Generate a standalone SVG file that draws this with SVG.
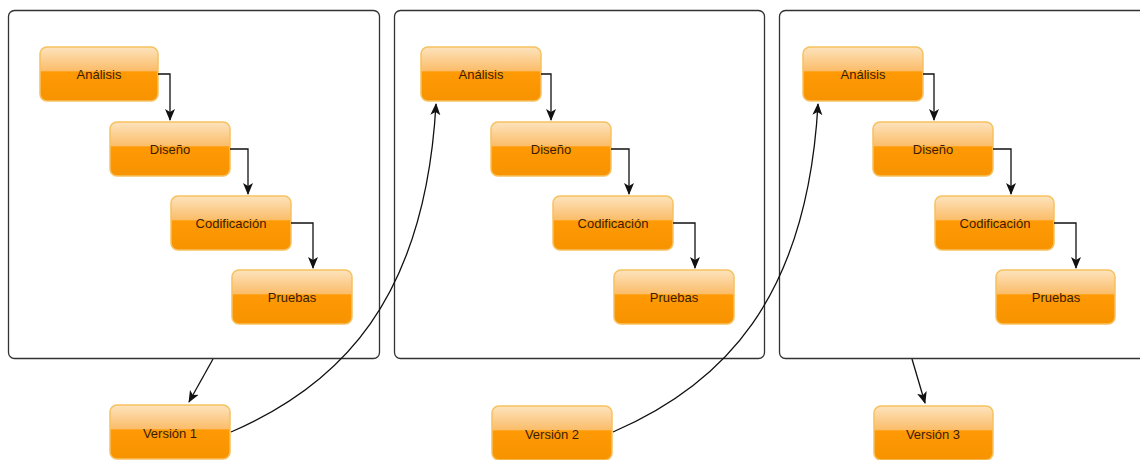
<svg xmlns="http://www.w3.org/2000/svg" width="1140" height="460" viewBox="0 0 1140 460">
<defs>
<linearGradient id="g" x1="0" y1="0" x2="0" y2="1">
<stop offset="0" stop-color="#fde3bd"/>
<stop offset="0.44" stop-color="#fbbd6a"/>
<stop offset="0.46" stop-color="#ff9a05"/>
<stop offset="1" stop-color="#f79300"/>
</linearGradient>
<marker id="arr" viewBox="0 0 12 12" refX="11" refY="6" markerWidth="12" markerHeight="12" markerUnits="userSpaceOnUse" orient="auto">
<path d="M0,1 L12,6 L0,11 L3,6 Z" fill="#111"/>
</marker>
</defs>
<style>
.panel{fill:#fff;stroke:#333;stroke-width:1.3}
.node rect{fill:url(#g);stroke:#f6c15f;stroke-width:1.5}
.node text{font-family:"Liberation Sans",Arial,sans-serif;font-size:13px;fill:#3a1c04;text-anchor:middle}
.conn{fill:none;stroke:#111;stroke-width:1.3;marker-end:url(#arr)}
</style>
<rect width="1140" height="460" fill="#fff"/>
<g id="panels">
<rect class="panel" x="8.5" y="10.5" width="371" height="348" rx="6"/>
<rect class="panel" x="394.5" y="10.5" width="370" height="348" rx="6"/>
<rect class="panel" x="779.5" y="10.5" width="380" height="348" rx="6"/>
</g>
<g id="p1-analisis" class="node"><rect x="40" y="47" width="118" height="54" rx="7"/><text x="99" y="79">Análisis</text></g>
<g id="p1-diseno" class="node"><rect x="110" y="122" width="120" height="54" rx="7"/><text x="170" y="154">Diseño</text></g>
<g id="p1-codificacion" class="node"><rect x="171" y="196" width="120" height="54" rx="7"/><text x="231" y="228">Codificación</text></g>
<g id="p1-pruebas" class="node"><rect x="232" y="270" width="120" height="54" rx="7"/><text x="292" y="302">Pruebas</text></g>
<g id="p2-analisis" class="node"><rect x="421" y="47" width="120" height="54" rx="7"/><text x="481" y="79">Análisis</text></g>
<g id="p2-diseno" class="node"><rect x="491" y="122" width="120" height="54" rx="7"/><text x="551" y="154">Diseño</text></g>
<g id="p2-codificacion" class="node"><rect x="553" y="196" width="120" height="54" rx="7"/><text x="613" y="228">Codificación</text></g>
<g id="p2-pruebas" class="node"><rect x="614" y="270" width="120" height="54" rx="7"/><text x="674" y="302">Pruebas</text></g>
<g id="p3-analisis" class="node"><rect x="803" y="47" width="120" height="54" rx="7"/><text x="863" y="79">Análisis</text></g>
<g id="p3-diseno" class="node"><rect x="873" y="122" width="120" height="54" rx="7"/><text x="933" y="154">Diseño</text></g>
<g id="p3-codificacion" class="node"><rect x="935" y="196" width="119" height="54" rx="7"/><text x="995" y="228">Codificación</text></g>
<g id="p3-pruebas" class="node"><rect x="996" y="270" width="119" height="54" rx="7"/><text x="1056" y="302">Pruebas</text></g>
<g id="version1" class="node"><rect x="110" y="405" width="120" height="54" rx="7"/><text x="170" y="438">Versión 1</text></g>
<g id="version2" class="node"><rect x="492" y="406" width="120" height="54" rx="7"/><text x="552" y="439">Versión 2</text></g>
<g id="version3" class="node"><rect x="874" y="406" width="119" height="54" rx="7"/><text x="933" y="439">Versión 3</text></g>
<g id="connectors">
<path class="conn" d="M158,74 H170 V120"/>
<path class="conn" d="M230,149 H248 V194"/>
<path class="conn" d="M291,223 H313 V268"/>
<path class="conn" d="M541,74 H551 V120"/>
<path class="conn" d="M611,149 H629 V194"/>
<path class="conn" d="M673,223 H695 V268"/>
<path class="conn" d="M923,74 H934 V120"/>
<path class="conn" d="M993,149 H1011 V194"/>
<path class="conn" d="M1054,223 H1076 V268"/>
<path class="conn" d="M213,359 L189,402"/>
<path class="conn" d="M912,359 L925,403"/>
<path class="conn" d="M231,432 C340,385 425,300 436,104"/>
<path class="conn" d="M613,432 C722,385 807,300 818,104"/>
</g>
</svg>
